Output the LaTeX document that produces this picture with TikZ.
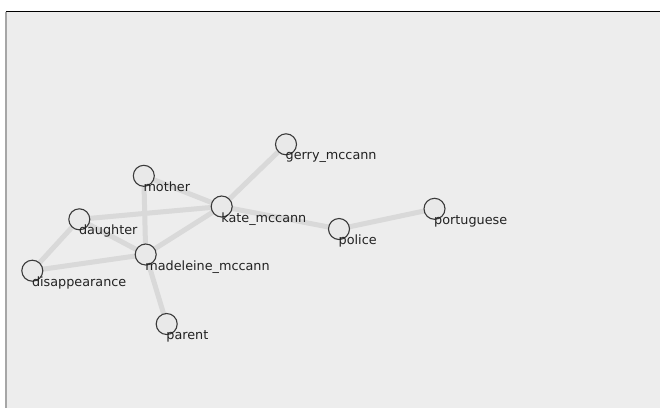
\documentclass[tikz,border=0pt]{standalone}
\usepackage{fontspec}
\setmainfont{DejaVu Sans}
\definecolor{canvas}{HTML}{EDEDED}
\definecolor{edgegray}{HTML}{D9D9D9}
\definecolor{ringgray}{HTML}{3A3A3A}
\definecolor{dotfill}{HTML}{E9E9E9}
\definecolor{labelink}{HTML}{222222}
\begin{document}
\begin{tikzpicture}[x=1pt,y=-1pt,
  vertex/.style={circle,draw=ringgray,fill=dotfill,line width=1.1pt,
    minimum size=21pt,inner sep=0pt},
  link/.style={draw=edgegray,line width=5pt},
  tag/.style={anchor=base west,inner sep=0pt,text=labelink,
    font=\fontsize{12.8pt}{15pt}\selectfont}]
  % canvas with frame lines
  \useasboundingbox (0,0) rectangle (660,408);
  \fill[white] (0,0) rectangle (660,408);
  \fill[canvas] (6,11.5) rectangle (660,408);
  \draw[black,line width=1.3pt] (5.5,11.5) -- (660,11.5);
  \draw[gray!70,line width=1.2pt] (6,11.5) -- (6,408);

  % vertices
  \coordinate (gerry) at (286,144.3);
  \coordinate (mother) at (143.8,175.8);
  \coordinate (kate) at (221.7,206.5);
  \coordinate (police) at (339,229);
  \coordinate (portuguese) at (434.5,208.8);
  \coordinate (daughter) at (79.3,219.3);
  \coordinate (madeleine) at (145.7,254.5);
  \coordinate (disappearance) at (32.3,270.7);
  \coordinate (parent) at (166.7,324);

  % connectors
  \draw[link] (mother) -- (kate);
  \draw[link] (mother) -- (madeleine);
  \draw[link] (daughter) -- (kate);
  \draw[link] (daughter) -- (madeleine);
  \draw[link] (daughter) -- (disappearance);
  \draw[link] (disappearance) -- (madeleine);
  \draw[link] (madeleine) -- (kate);
  \draw[link] (madeleine) -- (parent);
  \draw[link] (kate) -- (gerry);
  \draw[link] (kate) -- (police);
  \draw[link] (police) -- (portuguese);

  % circles
  \foreach \v in {gerry,mother,kate,police,portuguese,daughter,madeleine,disappearance,parent}
    \node[vertex] (\v-dot) at (\v) {};

  % labels
  \node[tag] (gerry-tag) at ([xshift=-0.5pt,yshift=-15.5pt]gerry) {gerry\_mccann};
  \node[tag] (mother-tag) at ([xshift=-0.5pt,yshift=-15.5pt]mother) {mother};
  \node[tag] (kate-tag) at ([xshift=-0.5pt,yshift=-15.5pt]kate) {kate\_mccann};
  \node[tag] (police-tag) at ([xshift=-0.5pt,yshift=-15.5pt]police) {police};
  \node[tag] (portuguese-tag) at ([xshift=-0.5pt,yshift=-15.5pt]portuguese) {portuguese};
  \node[tag] (daughter-tag) at ([xshift=-0.5pt,yshift=-15.5pt]daughter) {daughter};
  \node[tag] (madeleine-tag) at ([xshift=-0.5pt,yshift=-15.5pt]madeleine) {madeleine\_mccann};
  \node[tag] (disappearance-tag) at ([xshift=-0.5pt,yshift=-15.5pt]disappearance) {disappearance};
  \node[tag] (parent-tag) at ([xshift=-0.5pt,yshift=-15.5pt]parent) {parent};
\end{tikzpicture}
\end{document}
